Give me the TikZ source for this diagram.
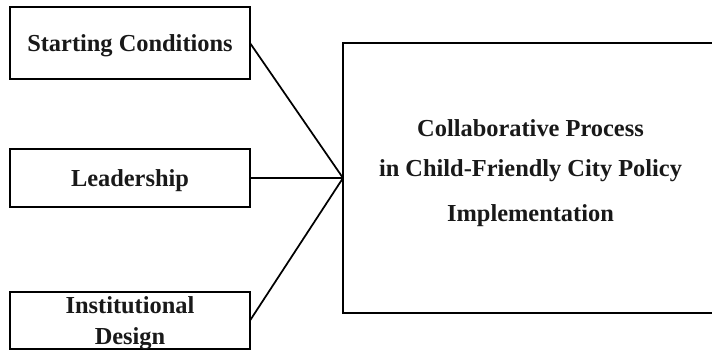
\documentclass[tikz,border=0pt]{standalone}
\usepackage{fontspec}
\setmainfont{Liberation Serif}
\begin{document}
\begin{tikzpicture}[x=0.75pt,y=-0.75pt,
  box/.style={draw=black,line width=1.5pt,rectangle,inner sep=0pt,outer sep=0pt,
    font=\bfseries\fontsize{18.3}{23.5}\selectfont,align=center,text=black!90,text depth=0pt},
  conn/.style={draw=black,line width=1.3pt}]
\useasboundingbox (0,0) rectangle (712,351);
\fill[white] (0,0) rectangle (712,351);
\node[box,minimum width=180pt,minimum height=54pt] (sc) at (130,43) {Starting Conditions};
\node[box,minimum width=180pt,minimum height=43.5pt] (ld) at (130,178) {Leadership};
\node[box,minimum width=180pt,minimum height=42.75pt] (id) at (130,320.5) {Institutional\\Design};
\node[box,minimum width=281.25pt,minimum height=202pt] (big) at (530.5,178) {};
\node[font=\bfseries\fontsize{18.3}{30}\selectfont,align=center,inner sep=0pt,text=black!90] (bigtxt) at (530.5,173)
  {Collaborative Process\\in Child-Friendly City Policy\\[3.75pt]Implementation};
\draw[conn] (sc.east) -- (big.west);
\draw[conn] (ld.east) -- (big.west);
\draw[conn] (id.east) -- (big.west);
\end{tikzpicture}
\end{document}
